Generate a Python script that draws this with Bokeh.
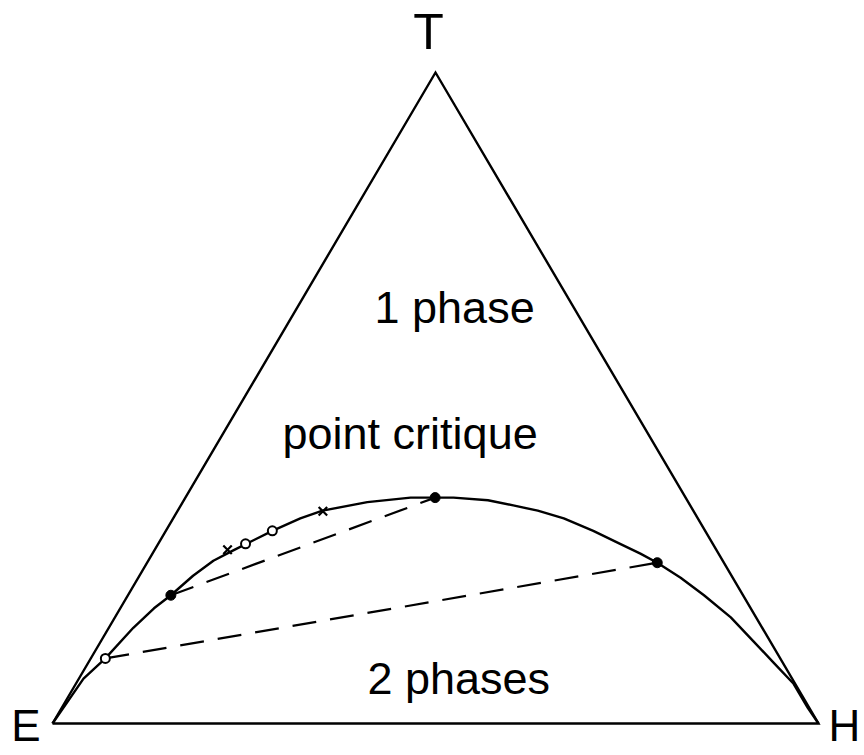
import math
from bokeh.plotting import figure
from bokeh.models import Range1d
from bokeh.core.properties import value
from bokeh.embed import file_html
from bokeh.resources import INLINE

# ---- data: compositions in % (T content, H content); E = 100 - T - H ----
vertex_names = ["E", "H", "T"]
vertex_T = [0.0, 0.0, 100.0]
vertex_H = [0.0, 100.0, 0.0]

# binodal curve (E -> critical point -> H)
curve_T = [0.0, 6.9, 10.0, 14.7, 17.7, 19.7, 22.7, 25.0, 26.6, 29.6, 31.5, 32.7,
           34.0, 34.7, 34.7, 34.7, 34.3, 33.5, 32.7, 31.5, 29.6, 27.6, 26.1,
           24.7, 22.4, 19.7, 16.3, 12.7, 9.4, 6.1, 2.4, 0.0]
curve_H = [0.0, 0.6, 1.9, 3.2, 4.4, 5.6, 7.0, 8.5, 10.3, 13.9, 16.6, 18.9,
           24.1, 29.4, 32.6, 35.0, 39.7, 43.4, 47.0, 51.0, 55.8, 60.3, 63.7,
           66.6, 70.8, 75.2, 80.4, 85.1, 89.4, 93.7, 97.4, 100.0]

# tie lines (dashed): left end, right end
tie_T = [[19.7, 34.7], [10.0, 24.7]]
tie_H = [[5.6, 32.6], [1.9, 66.6]]

# measured points
filled_T = [19.7, 34.7, 24.7]
filled_H = [5.6, 32.6, 66.6]
open_T = [10.0, 29.6, 27.6]
open_H = [1.9, 13.9, 11.4]
cross_T = [26.7, 32.6]
cross_H = [9.5, 19.0]

labels = ["1 phase", "point critique", "2 phases"]


def tern(T, H):
    t = T / 100.0
    h = H / 100.0
    return h + t / 2.0, t * math.sqrt(3) / 2.0


def conv(Ts, Hs):
    xs, ys = [], []
    for a, b in zip(Ts, Hs):
        x, y = tern(a, b)
        xs.append(x)
        ys.append(y)
    return xs, ys


W, H_ = 864, 755
p = figure(width=W, height=H_, output_backend="svg", toolbar_location=None,
           x_range=Range1d(-0.06789, 1.06005), y_range=Range1d(-0.04257, 0.96182),
           min_border=0, background_fill_color="white", border_fill_color="white")
p.axis.visible = False
p.grid.visible = False
p.outline_line_color = None

# triangle E -> T -> H -> E
tx, ty = conv(vertex_T, vertex_H)
order = [0, 2, 1, 0]
p.line([tx[i] for i in order], [ty[i] for i in order], line_color="black",
       line_width=2.4, line_join="miter")

# binodal curve
cx, cy = conv(curve_T, curve_H)
p.line(cx, cy, line_color="black", line_width=2.4, line_join="round")

# tie lines
for Ts, Hs in zip(tie_T, tie_H):
    lx, ly = conv(Ts, Hs)
    p.line(lx, ly, line_color="black", line_width=2.2, line_dash="24 14")

# markers
fx, fy = conv(filled_T, filled_H)
p.scatter(fx, fy, marker="circle", size=10, fill_color="black", line_color="black")
ox, oy = conv(open_T, open_H)
p.scatter(ox, oy, marker="circle", size=9, fill_color="white", line_color="black",
          line_width=2)
xx, xy = conv(cross_T, cross_H)
p.scatter(xx, xy, marker="x", size=12, line_color="black", line_width=2.2)

font = value("Liberation Sans")
# region labels
p.text(x=[0.4204, 0.3003, 0.4112], y=[0.5535, 0.3858, 0.0599], text=labels,
       text_font=font, text_font_size="45px", text_color="black",
       text_baseline="alphabetic", text_align="left")

# vertex labels
p.text(x=[-0.0157], y=[-0.0027], text=[vertex_names[0]], text_font=font,
       text_font_size="44px", text_baseline="alphabetic", text_align="right")
p.text(x=[1.0131], y=[-0.0027], text=[vertex_names[1]], text_font=font,
       text_font_size="44px", text_baseline="alphabetic", text_align="left")
p.text(x=[0.4909], y=[0.9193], text=[vertex_names[2]], text_font=font,
       text_font_size="50px", text_baseline="alphabetic", text_align="center")

open("out.html", "w").write(file_html(p, INLINE))
